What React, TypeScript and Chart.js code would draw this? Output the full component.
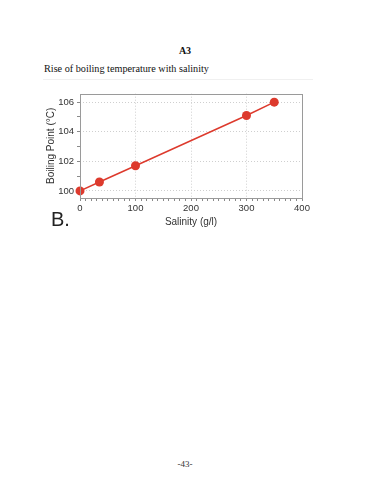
import React, { useEffect, useRef } from "react";
import { Chart, registerables } from "chart.js";

Chart.register(...registerables);

const salinity = [0, 35, 100, 300, 350];
const boilingPoint = [100, 100.6, 101.7, 105.1, 106.0];
const xTicks = Array.from({ length: 41 }, (_, i) => i * 10);
const xLabelTicks = [0, 100, 200, 300, 400];
const yTicks = [100, 101, 102, 103, 104, 105, 106];
const yLabelTicks = [100, 102, 104, 106];
const pageHeading = "A3";
const chartCaption = "Rise of boiling temperature with salinity";
const panelLabel = "B.";
const pageNumber = "-43-";
const xTitle = "Salinity (g/l)";
const yTitle = "Boiling Point (°C)";

const RED = "#dd3a2d";

const framePlugin = {
  id: "frame",
  afterDatasetsDraw(chart: any) {
    const { ctx, chartArea } = chart;
    ctx.save();
    ctx.strokeStyle = "#9a9a9a";
    ctx.lineWidth = 1;
    ctx.strokeRect(
      Math.round(chartArea.left) + 0.5,
      Math.round(chartArea.top) + 0.5,
      Math.round(chartArea.right - chartArea.left),
      Math.round(chartArea.bottom - chartArea.top)
    );
    ctx.restore();
  },
};

export default function App() {
  const ref = useRef<HTMLCanvasElement | null>(null);

  useEffect(() => {
    if (!ref.current) return;
    const chart = new Chart(ref.current, {
      type: "scatter",
      data: {
        datasets: [
          {
            data: salinity.map((x, i) => ({ x, y: boilingPoint[i] })),
            showLine: true,
            borderColor: RED,
            borderWidth: 1.5,
            backgroundColor: RED,
            pointBackgroundColor: RED,
            pointBorderColor: RED,
            pointRadius: 4.5,
            pointBorderWidth: 0,
            clip: false as any,
          },
        ],
      },
      plugins: [framePlugin],
      options: {
        animation: false,
        responsive: false,
        maintainAspectRatio: false,
        layout: { padding: { left: 0, right: 28, top: 6, bottom: 3 } },
        plugins: {
          legend: { display: false },
          tooltip: { enabled: false },
        },
        scales: {
          x: {
            type: "linear",
            min: 0,
            max: 400,
            afterBuildTicks: (scale: any) => {
              scale.ticks = xTicks.map((v) => ({ value: v }));
            },
            afterFit: (scale: any) => {
              scale.height = 34;
            },
            ticks: {
              autoSkip: false,
              maxRotation: 0,
              padding: 2,
              color: "#333",
              font: { family: "Liberation Sans", size: 9.5 },
              callback: (v: any) => (xLabelTicks.includes(Number(v)) ? String(v) : ""),
            },
            grid: {
              color: (c: any) =>
                xLabelTicks.includes(c.tick?.value) && c.tick.value !== 0 && c.tick.value !== 400
                  ? "#cfcfcf"
                  : "rgba(0,0,0,0)",
              tickColor: "#8a8a8a",
              tickLength: 3,
              drawTicks: true,
            },
            border: { display: false, dash: [1, 2] },
            title: {
              display: true,
              text: xTitle,
              color: "#333",
              font: { family: "Liberation Sans", size: 10 },
              padding: { top: 2, bottom: 4 },
            },
          },
          y: {
            type: "linear",
            min: 99.52,
            max: 106.57,
            afterBuildTicks: (scale: any) => {
              scale.ticks = yTicks.map((v) => ({ value: v }));
            },
            afterFit: (scale: any) => {
              scale.width = 40;
            },
            ticks: {
              autoSkip: false,
              padding: 3,
              color: "#333",
              font: { family: "Liberation Sans", size: 9.5 },
              callback: (v: any) => (yLabelTicks.includes(Number(v)) ? String(v) : ""),
            },
            grid: {
              color: (c: any) =>
                yLabelTicks.includes(c.tick?.value) ? "#cfcfcf" : "rgba(0,0,0,0)",
              tickColor: "#8a8a8a",
              tickLength: 3,
              drawTicks: true,
            },
            border: { display: false, dash: [1, 2] },
            title: {
              display: true,
              text: yTitle,
              color: "#333",
              font: { family: "Liberation Sans", size: 10 },
              padding: { top: 5, bottom: 2 },
            },
          },
        },
      } as any,
    });
    return () => chart.destroy();
  }, []);

  const serif = "'Liberation Serif', 'Times New Roman', serif";

  return (
    <div
      style={{
        position: "absolute",
        left: 0,
        top: 0,
        width: 370,
        height: 480,
        background: "#fff",
        overflow: "hidden",
      }}
    >
      <div
        style={{
          position: "absolute",
          left: 0,
          width: 370,
          top: 45,
          textAlign: "center",
          fontFamily: serif,
          fontWeight: "bold",
          fontSize: 10,
          lineHeight: "12px",
          color: "#111",
        }}
      >
        {pageHeading}
      </div>
      <div
        style={{
          position: "absolute",
          left: 44,
          top: 63,
          fontFamily: serif,
          fontSize: 10.2,
          lineHeight: "12px",
          color: "#111",
          whiteSpace: "nowrap",
        }}
      >
        {chartCaption}
      </div>
      <div
        style={{
          position: "absolute",
          left: 43,
          top: 79,
          width: 270,
          height: 1,
          background: "#f0f0f0",
        }}
      />
      <canvas
        ref={ref}
        width={290}
        height={150}
        style={{ position: "absolute", left: 40, top: 85, width: 290, height: 150 }}
      />
      <div
        style={{
          position: "absolute",
          left: 51,
          top: 208,
          fontFamily: "'Liberation Sans', Arial, sans-serif",
          fontSize: 20,
          lineHeight: "22px",
          color: "#222",
        }}
      >
        {panelLabel}
      </div>
      <div
        style={{
          position: "absolute",
          left: 0,
          width: 370,
          top: 458,
          textAlign: "center",
          fontFamily: serif,
          fontSize: 9,
          lineHeight: "12px",
          color: "#333",
        }}
      >
        {pageNumber}
      </div>
    </div>
  );
}
